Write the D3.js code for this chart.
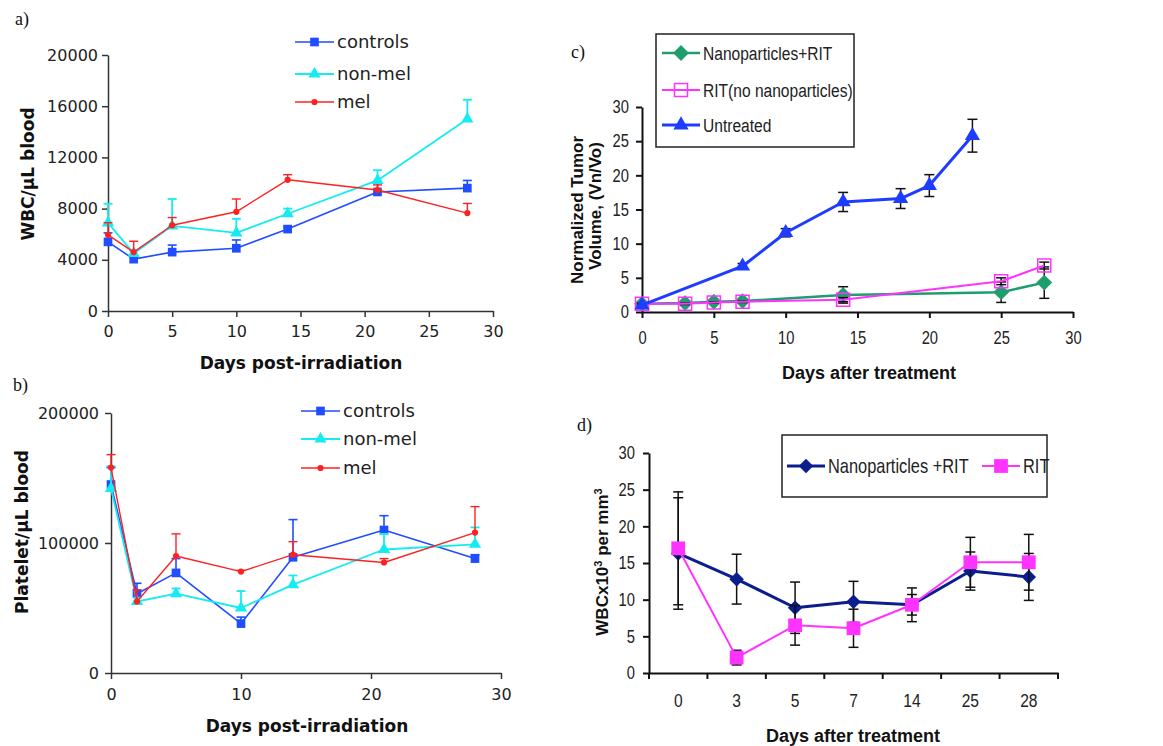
<!DOCTYPE html>
<html>
<head>
<meta charset="utf-8">
<script src="https://cdn.jsdelivr.net/npm/d3@7"></script>
<style>
body { margin: 0; background: #fff; }
svg { display: block; }
</style>
</head>
<body>
<svg id="chart" width="1163" height="746"></svg>
<script>
//fonts used by the two halves of the figure
var SANS = '"DejaVu Sans", Verdana, sans-serif';
var ARIAL = '"Liberation Sans", Arial, sans-serif';
var SERIF = '"Liberation Serif", "Times New Roman", serif';
//no narrow font installed, so squeeze Arial horizontally
var NARROW_K = 0.82;

//panel a) WBC counts
var daysA = [0, 2, 5, 10, 14, 21, 28];
var wbcControls = [5400, 4050, 4600, 4900, 6400, 9300, 9600];
var wbcControlsErr = [700, 200, 550, 650, 200, 700, 600];
var wbcNonMel = [6880, 4500, 6650, 6100, 7600, 10200, 15000];
var wbcNonMelErr = [1500, 200, 2100, 1100, 400, 800, 1500];
var wbcMel = [5950, 4600, 6700, 7750, 10250, 9450, 7650];
var wbcMelErr = [950, 850, 600, 1000, 400, 400, 750];
var ticksAx = [0, 5, 10, 15, 20, 25, 30];
var ticksAy = [0, 4000, 8000, 12000, 16000, 20000];

//panel b) platelet counts
var daysB = [0, 2, 5, 10, 14, 21, 28];
var pltControls = [145000, 61000, 77000, 38000, 89000, 110000, 88000];
var pltControlsErr = [13000, 8000, 11000, 5000, 29000, 11000, 3000];
var pltNonMel = [142000, 55000, 61000, 50000, 68000, 95000, 99000];
var pltNonMelErr = [17000, 3000, 4000, 13000, 7000, 12000, 13000];
var pltMel = [158000, 55000, 90000, 78000, 91000, 85000, 108000];
var pltMelErr = [10000, 9000, 17000, 1000, 10000, 3000, 20000];
var ticksBx = [0, 10, 20, 30];
var ticksBy = [0, 100000, 200000];

var groupsAB = ["controls", "non-mel", "mel"];

//panel c) normalized tumor volume
var daysNano = [0, 3, 5, 7, 14, 25, 28];
var volNano = [1.2, 1.3, 1.5, 1.6, 2.5, 2.9, 4.3];
var volNanoErr = [0.2, 0.2, 0.2, 0.2, 1.2, 1.5, 2.3];
var daysRit = [0, 3, 5, 7, 14, 25, 28];
var volRit = [1.2, 1.2, 1.4, 1.5, 1.8, 4.5, 6.8];
var volRitErr = [0.1, 0.1, 0.1, 0.1, 0.3, 0.5, 0.5];
var daysUntreated = [0, 7, 10, 14, 18, 20, 23];
var volUntreated = [1.0, 6.7, 11.6, 16.1, 16.6, 18.5, 25.8];
var volUntreatedErr = [0.2, 0.4, 0.6, 1.4, 1.45, 1.6, 2.4];
var ticksC = [0, 5, 10, 15, 20, 25, 30];
var groupsC = ["Nanoparticles+RIT", "RIT(no nanoparticles)", "Untreated"];

//panel d) WBC after treatment
var daysD = ["0", "3", "5", "7", "14", "25", "28"];
var wbcNanoRit = [16.3, 12.8, 8.9, 9.7, 9.3, 13.9, 13.1];
var wbcNanoRitErr = [7.6, 3.4, 3.5, 2.8, 2.3, 2.6, 3.2];
var wbcRit = [17.0, 2.1, 6.5, 6.1, 9.3, 15.1, 15.1];
var wbcRitErr = [7.7, 1.0, 2.7, 2.6, 1.4, 3.4, 3.8];
var ticksDy = [0, 5, 10, 15, 20, 25, 30];
var groupsD = ["Nanoparticles +RIT", "RIT"];

var svg = d3.select("#chart");

function styleAxis(sel, color, width, family, size, squeeze) {
	sel.attr("font-family", family).attr("font-size", size);
	sel.select(".domain").attr("stroke", color).attr("stroke-width", width);
	sel.selectAll(".tick line").attr("stroke", color).attr("stroke-width", width);
	sel.selectAll(".tick text").attr("fill", "#222");
	if (squeeze) {
		sel.selectAll(".tick text").each(function() {
			var t = d3.select(this);
			t.attr("x", (+t.attr("x")) / NARROW_K).attr("transform", "scale(" + NARROW_K + ",1)");
		});
	}
}

function errorBars(g, xs, y, vals, errs, color, width, cap, both) {
	var eg = g.append("g").attr("stroke", color).attr("stroke-width", width);
	vals.forEach(function(v, i) {
		var top = y(v + errs[i]);
		var bot = both ? y(v - errs[i]) : y(v);
		eg.append("line").attr("x1", xs[i]).attr("x2", xs[i]).attr("y1", top).attr("y2", bot);
		eg.append("line").attr("x1", xs[i] - cap / 2).attr("x2", xs[i] + cap / 2).attr("y1", top).attr("y2", top);
		if (both) {
			eg.append("line").attr("x1", xs[i] - cap / 2).attr("x2", xs[i] + cap / 2).attr("y1", bot).attr("y2", bot);
		}
	});
}

function markPath(st) {
	return d3.symbol().type(st.type).size(st.size)();
}

function markers(g, xs, y, vals, st) {
	g.append("g").selectAll("path")
		.data(vals)
		.join("path")
		.attr("d", markPath(st))
		.attr("transform", function(d, i) { return "translate(" + xs[i] + "," + y(d) + ")" + (st.rot ? " rotate(45)" : ""); })
		.attr("fill", st.fill)
		.attr("stroke", st.stroke || "none")
		.attr("stroke-width", st.sw || 0);
}

function series(g, xs, y, vals, errs, st) {
	errorBars(g, xs, y, vals, errs, st.errColor || st.color, st.errWidth, st.cap, st.both);
	var line = d3.line()
		.x(function(d, i) { return xs[i]; })
		.y(function(d) { return y(d); });
	g.append("path")
		.datum(vals)
		.attr("fill", "none")
		.attr("stroke", st.color)
		.attr("stroke-width", st.lineWidth)
		.attr("stroke-linejoin", "round")
		.attr("d", line);
	markers(g, xs, y, vals, st);
}

function legendRow(g, x0, x1, yRow, label, st, family, size, squeeze) {
	g.append("line").attr("x1", x0).attr("x2", x1).attr("y1", yRow).attr("y2", yRow)
		.attr("stroke", st.color).attr("stroke-width", st.lineWidth);
	g.append("path").attr("d", markPath(st))
		.attr("transform", "translate(" + (x0 + x1) / 2 + "," + yRow + ")" + (st.rot ? " rotate(45)" : ""))
		.attr("fill", st.fill).attr("stroke", st.stroke || "none").attr("stroke-width", st.sw || 0);
	g.append("text")
		.attr("transform", "translate(" + (x1 + 3) + "," + yRow + ")" + (squeeze ? " scale(" + NARROW_K + ",1)" : ""))
		.attr("dy", "0.35em")
		.attr("font-family", family).attr("font-size", size).attr("fill", "#222")
		.text(label);
}

function yTitle(g, cx, cy, family, size, build) {
	var t = g.append("text")
		.attr("transform", "translate(" + cx + "," + cy + ") rotate(-90)")
		.attr("text-anchor", "middle")
		.attr("dy", "0.35em")
		.attr("font-family", family)
		.attr("font-size", size)
		.attr("font-weight", "bold")
		.attr("fill", "#111");
	build(t);
}

function xTitle(g, cx, baseline, family, size, label) {
	g.append("text").attr("x", cx).attr("y", baseline)
		.attr("text-anchor", "middle")
		.attr("font-family", family).attr("font-size", size).attr("font-weight", "bold")
		.attr("fill", "#111").text(label);
}

function panelTag(x, y, label) {
	svg.append("text").attr("x", x).attr("y", y)
		.attr("font-family", SERIF).attr("font-size", 18).attr("fill", "#111").text(label);
}

//styles for the a) and b) groups
var abStyles = [
	{color: "#1f4dff", lineWidth: 1.6, errWidth: 1.6, cap: 9, both: false, type: d3.symbolSquare, size: 75, fill: "#1f4dff"},
	{color: "#14ecf2", lineWidth: 1.8, errWidth: 1.8, cap: 9, both: false, type: d3.symbolTriangle, size: 65, fill: "#14ecf2"},
	{color: "#ff2020", lineWidth: 1.4, errWidth: 1.4, cap: 9, both: false, type: d3.symbolCircle, size: 30, fill: "#ff2020"}
];

function panelAB(cfg) {
	var g = svg.append("g");
	var x = d3.scaleLinear().domain([0, 30]).range(cfg.xr);
	var y = d3.scaleLinear().domain([0, cfg.ymax]).range(cfg.yr);

	g.append("g")
		.attr("transform", "translate(0," + cfg.yr[0] + ")")
		.call(d3.axisBottom(x).tickValues(cfg.xt).tickSize(6).tickSizeOuter(0).tickPadding(cfg.xpad).tickFormat(d3.format("d")))
		.call(styleAxis, "#333", 1.5, SANS, 16, false);
	g.append("g")
		.attr("transform", "translate(" + cfg.xr[0] + ",0)")
		.call(d3.axisLeft(y).tickValues(cfg.yt).tickSize(6).tickSizeOuter(0).tickPadding(cfg.ypad).tickFormat(d3.format("d")))
		.call(styleAxis, "#333", 1.5, SANS, 16, false);

	var xs = cfg.days.map(x);
	cfg.vals.forEach(function(v, k) {
		series(g, xs, y, v, cfg.errs[k], abStyles[k]);
	});

	groupsAB.forEach(function(name, k) {
		legendRow(g, cfg.legX[0], cfg.legX[1], cfg.legY[k], name, abStyles[k], SANS, 18, false);
	});

	yTitle(g, cfg.yTitle[0], cfg.yTitle[1], SANS, 17, function(t) { t.text(cfg.yLabel); });
	xTitle(g, cfg.xTitle[0], cfg.xTitle[1], SANS, 17, "Days post-irradiation");
}

panelAB({
	xr: [108, 493], yr: [311, 55], ymax: 20000, xt: ticksAx, yt: ticksAy, xpad: 9, ypad: 4,
	days: daysA, vals: [wbcControls, wbcNonMel, wbcMel], errs: [wbcControlsErr, wbcNonMelErr, wbcMelErr],
	legX: [295, 334], legY: [42, 74, 102],
	yLabel: "WBC/\u03bcL blood", yTitle: [28, 174], xTitle: [301, 369]
});

panelAB({
	xr: [111, 501], yr: [673, 413], ymax: 200000, xt: ticksBx, yt: ticksBy, xpad: 10, ypad: 6,
	days: daysB, vals: [pltControls, pltNonMel, pltMel], errs: [pltControlsErr, pltNonMelErr, pltMelErr],
	legX: [301, 340], legY: [411, 439, 468],
	yLabel: "Platelet/\u03bcL blood", yTitle: [22, 532], xTitle: [307, 732]
});

//panel c)
(function() {
	var g = svg.append("g");
	var x = d3.scaleLinear().domain([0, 30]).range([642, 1073]);
	var y = d3.scaleLinear().domain([0, 30]).range([312, 107]);

	g.append("g")
		.attr("transform", "translate(0,312)")
		.call(d3.axisBottom(x).tickValues(ticksC).tickSize(6).tickSizeOuter(0).tickPadding(13))
		.call(styleAxis, "#111", 2, ARIAL, 18, true);
	g.append("g")
		.attr("transform", "translate(642,0)")
		.call(d3.axisLeft(y).tickValues(ticksC).tickSize(6).tickSizeOuter(0).tickPadding(7))
		.call(styleAxis, "#111", 2, ARIAL, 18, true);

	var st = [
		{color: "#1e9e6e", lineWidth: 2.5, errColor: "#111", errWidth: 1.5, cap: 10, both: true, type: d3.symbolSquare, size: 125, rot: true, fill: "#1e9e6e"},
		{color: "#ff33ff", lineWidth: 2, errColor: "#111", errWidth: 1.5, cap: 10, both: true, type: d3.symbolSquare, size: 170, fill: "none", stroke: "#ff33ff", sw: 1.5},
		{color: "#1e3cff", lineWidth: 3, errColor: "#111", errWidth: 1.5, cap: 10, both: true, type: d3.symbolTriangle, size: 100, fill: "#1e3cff"}
	];
	series(g, daysNano.map(x), y, volNano, volNanoErr, st[0]);
	series(g, daysRit.map(x), y, volRit, volRitErr, st[1]);
	series(g, daysUntreated.map(x), y, volUntreated, volUntreatedErr, st[2]);

	g.append("rect").attr("x", 656).attr("y", 34).attr("width", 198).attr("height", 113)
		.attr("fill", "#fff").attr("stroke", "#222").attr("stroke-width", 1.5);
	var rows = [53, 90, 125];
	groupsC.forEach(function(name, k) {
		legendRow(g, 662, 700, rows[k], name, st[k], ARIAL, 19, true);
	});

	yTitle(g, 577, 210, ARIAL, 17, function(t) { t.text("Normalized Tumor"); });
	yTitle(g, 595, 206, ARIAL, 17, function(t) { t.text("Volume, (Vn/Vo)"); });
	xTitle(g, 869, 379, ARIAL, 18, "Days after treatment");
})();

//panel d)
(function() {
	var g = svg.append("g");
	var x = d3.scaleBand().domain(daysD).range([649, 1058]);
	var y = d3.scaleLinear().domain([0, 30]).range([673, 453]);

	var xa = g.append("g")
		.attr("transform", "translate(0,673)")
		.call(d3.axisBottom(x).tickSize(0).tickSizeOuter(0).tickPadding(21))
		.call(styleAxis, "#111", 2, ARIAL, 19, true);
	//category ticks sit on the band edges
	var edges = d3.range(daysD.length + 1).map(function(i) { return x.range()[0] + i * x.step(); });
	xa.selectAll(".edge").data(edges).join("line")
		.attr("class", "edge")
		.attr("x1", function(d) { return d; }).attr("x2", function(d) { return d; })
		.attr("y1", 0).attr("y2", 6)
		.attr("stroke", "#111").attr("stroke-width", 2);
	g.append("g")
		.attr("transform", "translate(649,0)")
		.call(d3.axisLeft(y).tickValues(ticksDy).tickSize(6).tickSizeOuter(0).tickPadding(8))
		.call(styleAxis, "#111", 2, ARIAL, 18, true);

	var xs = daysD.map(function(d) { return x(d) + x.bandwidth() / 2; });
	var st = [
		{color: "#0c1e8e", lineWidth: 3, errColor: "#111", errWidth: 1.5, cap: 10, both: true, type: d3.symbolSquare, size: 105, rot: true, fill: "#0c1e8e"},
		{color: "#ff33ff", lineWidth: 2, errColor: "#111", errWidth: 1.5, cap: 10, both: true, type: d3.symbolSquare, size: 190, fill: "#ff33ff"}
	];
	series(g, xs, y, wbcNanoRit, wbcNanoRitErr, st[0]);
	series(g, xs, y, wbcRit, wbcRitErr, st[1]);

	g.append("rect").attr("x", 782).attr("y", 435).attr("width", 265).attr("height", 62)
		.attr("fill", "none").attr("stroke", "#222").attr("stroke-width", 1.5);
	legendRow(g, 787, 825, 466, groupsD[0], st[0], ARIAL, 20, true);
	legendRow(g, 982, 1020, 466, groupsD[1], st[1], ARIAL, 20, true);

	yTitle(g, 602, 562, ARIAL, 17, function(t) {
		t.append("tspan").text("WBCx10");
		t.append("tspan").attr("baseline-shift", "super").attr("font-size", 11).text("3");
		t.append("tspan").text(" per mm");
		t.append("tspan").attr("baseline-shift", "super").attr("font-size", 11).text("3");
	});
	xTitle(g, 853, 742, ARIAL, 18, "Days after treatment");
})();

panelTag(15, 25, "a)");
panelTag(13, 391, "b)");
panelTag(571, 58, "c)");
panelTag(577, 431, "d)");
</script>
</body>
</html>
